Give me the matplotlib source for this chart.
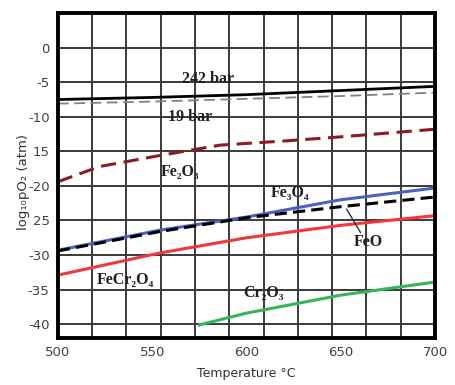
import matplotlib
matplotlib.use("Agg")
import matplotlib.pyplot as plt
import numpy as np

# temperature (°C) and log10 pO2 (atm)
t_242 = [500, 550, 600, 650, 700]
p_242 = [-7.5, -7.2, -6.8, -6.2, -5.6]
t_19 = [500, 550, 600, 650, 700]
p_19 = [-8.1, -7.8, -7.4, -7.0, -6.5]
t_fe2o3 = [500, 522, 554, 586, 620, 650, 700]
p_fe2o3 = [-19.4, -17.2, -15.6, -14.1, -13.5, -12.9, -11.8]
t_fe3o4 = [500, 554, 600, 650, 700]
p_fe3o4 = [-29.3, -26.4, -24.5, -22.0, -20.3]
t_feo = [500, 554, 600, 650, 700]
p_feo = [-29.4, -26.6, -24.6, -23.0, -21.6]
t_fecr2o4 = [500, 554, 600, 650, 700]
p_fecr2o4 = [-32.9, -29.7, -27.5, -25.7, -24.3]
t_cr2o3 = [575, 600, 650, 700]
p_cr2o3 = [-40.1, -38.4, -35.8, -33.9]

x_ticks = [500, 550, 600, 650, 700]
y_ticks = [-40, -35, -30, -25, -20, -15, -10, -5, 0]
y_ticklabels = ['-40', '-35', '-30', '25', '-20', '15', '-10', '-5', '0']

fig = plt.figure(figsize=(4.56, 3.85), dpi=100)
ax = fig.add_axes([0.127, 0.122, 0.827, 0.844])

ax.plot(t_242, p_242, color='black', lw=2.0)
ax.plot(t_19, p_19, color='#808080', lw=1.3, dashes=(6, 3))
ax.plot(t_fe2o3, p_fe2o3, color='#8b1a22', lw=2.2, dashes=(5, 2.5))
ax.plot(t_fe3o4, p_fe3o4, color='#4a62c0', lw=2.2)
ax.plot(t_feo, p_feo, color='black', lw=2.2, dashes=(4, 2))
ax.plot(t_fecr2o4, p_fecr2o4, color='#f03838', lw=2.2)
ax.plot(t_cr2o3, p_cr2o3, color='#33b55a', lw=2.2)

ax.set_xlim(500, 700)
ax.set_ylim(-42, 5)

# grid: horizontal at the y ticks, vertical every 200/11 degrees
for y in y_ticks:
    ax.axhline(y, color='#3a3a3a', lw=1.4, zorder=0)
for x in np.linspace(500, 700, 12)[1:-1]:
    ax.axvline(x, color='#3a3a3a', lw=1.4, zorder=0)

ax.set_xticks(x_ticks)
ax.set_yticks(y_ticks)
ax.set_yticklabels(y_ticklabels)
ax.tick_params(length=0, pad=6, labelsize=9.5, labelcolor='#404040')
for s in ax.spines.values():
    s.set_linewidth(2.8)
    s.set_color('black')

ax.set_xlabel('Temperature °C', fontsize=9, color='#303030')
ax.xaxis.set_label_coords(0.5, -0.09)
ax.set_ylabel('log₁₀pO₂ (atm)', fontsize=9.5, color='#303030')
ax.yaxis.set_label_coords(-0.075, 0.48)

lab = dict(family=['Liberation Serif', 'DejaVu Serif'], fontweight='bold',
           fontsize=11.5, color='#202020')
ax.text(579.6, -4.6, '242 bar', ha='center', va='center', **lab)
ax.text(570, -10.0, '19 bar', ha='center', va='center', **lab)
ax.text(564.7, -18.0, 'Fe₂O₃', ha='center', va='center', **lab)
ax.text(623, -21.0, 'Fe₃O₄', ha='center', va='center', **lab)
ax.text(664.5, -28.1, 'FeO', ha='center', va='center', **lab)
ax.text(535.5, -33.6, 'FeCr₂O₄', ha='center', va='center', **lab)
ax.text(609, -35.5, 'Cr₂O₃', ha='center', va='center', **lab)
ax.annotate('', xy=(652.3, -23.0), xytext=(661.3, -27.1),
            arrowprops=dict(arrowstyle='-', color='#303030', lw=1.0))

fig.savefig('out.png', dpi=100)
